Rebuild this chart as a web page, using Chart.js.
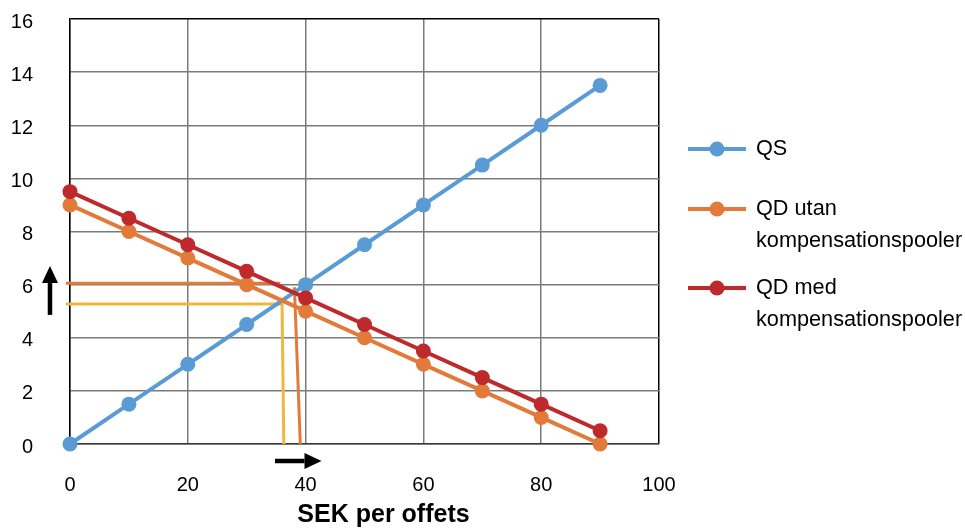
<!DOCTYPE html>
<html>
<head>
<meta charset="utf-8">
<script src="https://cdn.jsdelivr.net/npm/chart.js@4/dist/chart.umd.min.js"></script>
<style>
  html, body { margin: 0; padding: 0; background: #ffffff; }
  #wrap { width: 965px; height: 529px; }
</style>
</head>
<body>
<div id="wrap"><canvas id="c" width="965" height="529"></canvas></div>
<script>
// Price (SEK per offset) and quantities
const prices = [0, 10, 20, 30, 40, 50, 60, 70, 80, 90];
const qs     = [0, 1.5, 3, 4.5, 6, 7.5, 9, 10.5, 12, 13.5];
const qdUtan = [9, 8, 7, 6, 5, 4, 3, 2, 1, 0];
const qdMed  = [9.5, 8.5, 7.5, 6.5, 5.5, 4.5, 3.5, 2.5, 1.5, 0.5];

const seriesNames = [
  ['QS'],
  ['QD utan', 'kompensationspooler'],
  ['QD med', 'kompensationspooler']
];
const axisTitle = 'SEK per offets';

// Equilibrium guide lines (price, quantity)
const guideOrangeX  = [-0.7, 35.7];
const guideOrangeY  = [6.05, 6.05];
const guideOrangeVX = [38.1, 39.1];
const guideOrangeVY = [5.9, 0];
const guideYellowX  = [-0.7, 36.0, 36.3];
const guideYellowY  = [5.27, 5.27, 0];

// Shift arrows (from -> to, data units)
const arrowUp    = [[-3.4, 4.86], [-3.4, 6.7]];
const arrowRight = [[34.8, -0.64], [42.7, -0.64]];

const BLUE = '#5B9BD5', ORANGE = '#E27B3A', RED = '#BE2A2B', YELLOW = '#EFB73C';
const FONT = "'Liberation Sans', Arial, sans-serif";

const pts = (xs, ys) => xs.map((x, i) => ({ x: x, y: ys[i] }));

const seriesStyle = (color) => ({
  borderColor: color, backgroundColor: color,
  pointBackgroundColor: color, pointBorderColor: color,
  borderWidth: 4, pointRadius: 7.5, pointBorderWidth: 0,
  showLine: true, tension: 0, clip: false
});
const guideStyle = (color) => ({
  borderColor: color, backgroundColor: color, borderWidth: 3,
  pointRadius: 0, showLine: true, tension: 0, clip: false, order: 10
});

const datasets = [
  Object.assign({ label: 'QS', data: pts(prices, qs), order: 3 }, seriesStyle(BLUE)),
  Object.assign({ label: 'QD utan kompensationspooler', data: pts(prices, qdUtan), order: 2 }, seriesStyle(ORANGE)),
  Object.assign({ label: 'QD med kompensationspooler', data: pts(prices, qdMed), order: 1 }, seriesStyle(RED)),
  Object.assign({ label: '_g1', data: pts(guideOrangeX, guideOrangeY) }, guideStyle(ORANGE)),
  Object.assign({ label: '_g2', data: pts(guideOrangeVX, guideOrangeVY) }, guideStyle(ORANGE)),
  Object.assign({ label: '_g3', data: pts(guideYellowX, guideYellowY) }, guideStyle(YELLOW))
];

function drawArrow(ctx, x0, y0, x1, y1) {
  const ang = Math.atan2(y1 - y0, x1 - x0);
  const head = 17, half = 8;
  const bx = x1 - head * Math.cos(ang), by = y1 - head * Math.sin(ang);
  ctx.save();
  ctx.strokeStyle = '#000'; ctx.fillStyle = '#000'; ctx.lineWidth = 4.5;
  ctx.beginPath(); ctx.moveTo(x0, y0); ctx.lineTo(bx, by); ctx.stroke();
  ctx.beginPath();
  ctx.moveTo(x1, y1);
  ctx.lineTo(bx + half * Math.sin(ang), by - half * Math.cos(ang));
  ctx.lineTo(bx - half * Math.sin(ang), by + half * Math.cos(ang));
  ctx.closePath(); ctx.fill();
  ctx.restore();
}

const extras = {
  id: 'extras',
  afterDraw(chart) {
    const ctx = chart.ctx, xs = chart.scales.x, ys = chart.scales.y, ca = chart.chartArea;
    [arrowUp, arrowRight].forEach(a => {
      drawArrow(ctx, xs.getPixelForValue(a[0][0]), ys.getPixelForValue(a[0][1]),
                     xs.getPixelForValue(a[1][0]), ys.getPixelForValue(a[1][1]));
    });
    ctx.save();
    // axis title
    ctx.font = 'bold 25px ' + FONT;
    ctx.fillStyle = '#000';
    ctx.textAlign = 'center';
    ctx.textBaseline = 'middle';
    ctx.fillText(axisTitle, (ca.left + ca.right) / 2 + 19, 515);
    // legend
    const colors = [BLUE, ORANGE, RED];
    const rowY = [149, 209, 288];
    const lx0 = ca.right + 29, lx1 = lx0 + 58, mx = lx0 + 29, tx = lx0 + 68;
    ctx.font = '21.7px ' + FONT;
    ctx.textAlign = 'left';
    seriesNames.forEach((lines, i) => {
      const y = rowY[i];
      ctx.strokeStyle = colors[i]; ctx.fillStyle = colors[i]; ctx.lineWidth = 4;
      ctx.beginPath(); ctx.moveTo(lx0, y); ctx.lineTo(lx1, y); ctx.stroke();
      ctx.beginPath(); ctx.arc(mx, y, 7.5, 0, Math.PI * 2); ctx.fill();
      ctx.fillStyle = '#000';
      lines.forEach((t, j) => ctx.fillText(t, tx, y + j * 32));
    });
    ctx.restore();
  }
};

new Chart(document.getElementById('c'), {
  type: 'scatter',
  data: { datasets: datasets },
  plugins: [extras],
  options: {
    responsive: false,
    animation: false,
    devicePixelRatio: 1,
    layout: { padding: { top: 19, right: 306, left: 0, bottom: 0 } },
    plugins: { legend: { display: false }, tooltip: { enabled: false } },
    scales: {
      x: {
        type: 'linear', min: 0, max: 100,
        afterFit(s) { s.height = 85; s.paddingLeft = 0; s.paddingRight = 0; },
        ticks: { stepSize: 20, padding: 29, color: '#000', font: { family: FONT, size: 20 } },
        grid: {
          drawTicks: false, lineWidth: 1.5,
          color: (c) => (c.tick && c.tick.value === 100) ? '#000' : '#7a7a7a'
        },
        border: { display: true, color: '#3a3a3a', width: 1.5 }
      },
      y: {
        type: 'linear', min: 0, max: 16,
        afterFit(s) { s.width = 70; s.paddingTop = 0; s.paddingBottom = 0; },
        ticks: { stepSize: 2, padding: 37, labelOffset: 3, color: '#000', font: { family: FONT, size: 20 } },
        grid: {
          drawTicks: false, lineWidth: 1.5,
          color: (c) => (c.tick && c.tick.value === 16) ? '#000' : '#7a7a7a'
        },
        border: { display: true, color: '#000', width: 1.5 }
      }
    }
  }
});
</script>
</body>
</html>
